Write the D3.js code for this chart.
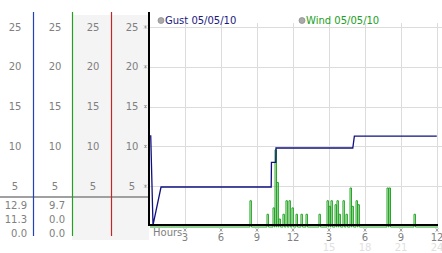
<!DOCTYPE html>
<html><head><meta charset="utf-8">
<script src="https://cdn.jsdelivr.net/npm/d3@7"></script>
<style>
html,body{margin:0;padding:0;background:#fff;}
svg{display:block;}
text{font-family:"DejaVu Sans",Verdana,sans-serif;}
</style></head>
<body>
<svg id="c" width="442" height="253"></svg>
<script>
// ---- data ----
const yTicks = [25, 20, 15, 10, 5];
const hourTicks = [3, 6, 9, 12, 15, 18, 21, 24];
const hourLabels1 = ["3", "6", "9", "12", "3", "6", "9", "12"];
const hourLabels2 = ["", "", "", "", "15", "18", "21", "24"];
const seriesNames = ["Gust 05/05/10", "Wind 05/05/10"];
const gustStats = ["12.9", "11.3", "0.0"];
const windStats = ["9.7", "0.0", "0.0"];
// gust line (hours, mph)
const gustHours = [0.06, 0.25, 0.92, 10.1, 10.12, 10.48, 10.5, 16.9, 17.03, 23.9];
const gustValues = [11.4, 0.1, 4.9, 4.9, 8.0, 8.0, 9.8, 9.8, 11.3, 11.3];
// wind spikes (hours, mph)
const windHours = [8.33, 9.75, 10.25, 10.42, 10.58, 10.75, 11.08, 11.33, 11.58, 11.83, 12.17, 12.58, 13.0,
  14.08, 14.75, 14.92, 15.08, 15.42, 15.58, 15.75, 16.08, 16.33, 16.67, 16.83, 17.17, 17.33, 19.75, 19.92, 22.0];
const windValues = [3.3, 1.6, 2.4, 9.7, 5.6, 1.0, 1.6, 3.3, 3.3, 2.4, 1.6, 1.6, 1.6,
  1.6, 3.3, 2.6, 3.3, 2.8, 3.3, 1.6, 3.3, 1.6, 4.9, 2.6, 3.3, 2.8, 4.9, 4.9, 1.6];

// ---- layout ----
const svg = d3.select("#c");
const x = d3.scaleLinear().domain([0, 24]).range([150, 438]);
const y = d3.scaleLinear().domain([0, 25]).range([226, 27]);

// left panel backgrounds
svg.append("rect").attr("x", 72).attr("y", 15).attr("width", 77).attr("height", 225).attr("fill", "#f4f4f4");

// gridlines
const grid = svg.append("g").attr("stroke", "#dcdcdc").attr("stroke-width", 1);
yTicks.forEach(v => grid.append("line").attr("x1", 150).attr("x2", 442).attr("y1", Math.round(y(v)) + 0.5).attr("y2", Math.round(y(v)) + 0.5));
hourTicks.forEach(h => grid.append("line").attr("x1", Math.round(x(h)) - 0.5).attr("x2", Math.round(x(h)) - 0.5).attr("y1", 23).attr("y2", 226));

// left panel columns
const colCenters = [15, 55, 93, 132];
colCenters.forEach(cx => {
  svg.append("g").selectAll("text").data(yTicks).join("text")
    .attr("x", cx).attr("y", d => y(d)).attr("dy", "0.35em")
    .attr("text-anchor", "middle").attr("font-size", 10).attr("fill", "#808080")
    .text(d => d);
});
// small tick glyphs
const markPath = "M-1.5,-1.5L1.5,1.5M1.5,-1.5L-1.5,1.5M0,-1.5L0,1.5";
svg.append("g").selectAll("path").data(yTicks).join("path")
  .attr("transform", d => `translate(145.5,${y(d)})`).attr("d", markPath)
  .attr("stroke", "#999").attr("stroke-width", 0.8).attr("fill", "none");

// separator
svg.append("line").attr("x1", 0).attr("x2", 149).attr("y1", 197).attr("y2", 197).attr("stroke", "#a0a0a0").attr("stroke-width", 2);

// column divider lines
[[33.5, "#1f44b8"], [72.5, "#22a022"], [111.5, "#c02828"]].forEach(([lx, c]) =>
  svg.append("line").attr("x1", lx).attr("x2", lx).attr("y1", 12).attr("y2", 236).attr("stroke", c).attr("stroke-width", 1.2));

// stats
const statY = [205, 219, 233];
svg.append("g").selectAll("text").data(gustStats).join("text")
  .attr("x", 27).attr("y", (d, i) => statY[i]).attr("dy", "0.35em").attr("text-anchor", "end")
  .attr("font-size", 10).attr("fill", "#808080").text(d => d);
svg.append("g").selectAll("text").data(windStats).join("text")
  .attr("x", 65).attr("y", (d, i) => statY[i]).attr("dy", "0.35em").attr("text-anchor", "end")
  .attr("font-size", 10).attr("fill", "#808080").text(d => d);

// wind line
const windPts = [[0, 0]];
windHours.forEach((h, i) => {
  windPts.push([h, 0], [h, windValues[i]], [h + 0.12, windValues[i]], [h + 0.12, 0]);
});
windPts.push([24, 0]);
const line = d3.line().x(d => x(d[0])).y(d => y(d[1]));
svg.append("path").datum(windPts).attr("d", line).attr("fill", "none")
  .attr("stroke", "#22a322").attr("stroke-width", 1).attr("transform", "translate(0,1)");

// gust line
const gustPts = gustHours.map((h, i) => [h, gustValues[i]]);
svg.append("path").datum(gustPts).attr("d", line).attr("fill", "none")
  .attr("stroke", "#101080").attr("stroke-width", 1.3);

// axes (black)
svg.append("line").attr("x1", 149).attr("x2", 149).attr("y1", 12).attr("y2", 226).attr("stroke", "#000").attr("stroke-width", 2);
svg.append("line").attr("x1", 148).attr("x2", 438).attr("y1", 225).attr("y2", 225).attr("stroke", "#000").attr("stroke-width", 2);

// x axis labels
svg.append("text").attr("x", 153).attr("y", 236).attr("font-size", 10).attr("fill", "#808080").text("Hours");
svg.append("g").selectAll("path").data(hourTicks).join("path")
  .attr("transform", d => `translate(${x(d) - 1},230)`).attr("d", markPath)
  .attr("stroke", "#999").attr("stroke-width", 0.8).attr("fill", "none");
svg.append("g").selectAll("text").data(hourTicks).join("text")
  .attr("x", d => x(d) - 1).attr("y", 241).attr("text-anchor", "middle").attr("font-size", 10).attr("fill", "#808080")
  .text((d, i) => hourLabels1[i]);
svg.append("g").selectAll("text").data(hourTicks).join("text")
  .attr("x", d => x(d) - 1).attr("y", 251).attr("text-anchor", "middle").attr("font-size", 10).attr("fill", "#e0e0e0")
  .text((d, i) => hourLabels2[i]);

// legend
const legX = [161, 302], legC = ["#1a1a80", "#22a022"];
seriesNames.forEach((n, i) => {
  svg.append("circle").attr("cx", legX[i]).attr("cy", 20.5).attr("r", 3).attr("fill", "#aaa").attr("stroke", "#888").attr("stroke-width", 0.7);
  svg.append("text").attr("x", legX[i] + 4).attr("y", 24).attr("font-size", 10).attr("fill", legC[i]).text(n);
});
</script>
</body></html>
